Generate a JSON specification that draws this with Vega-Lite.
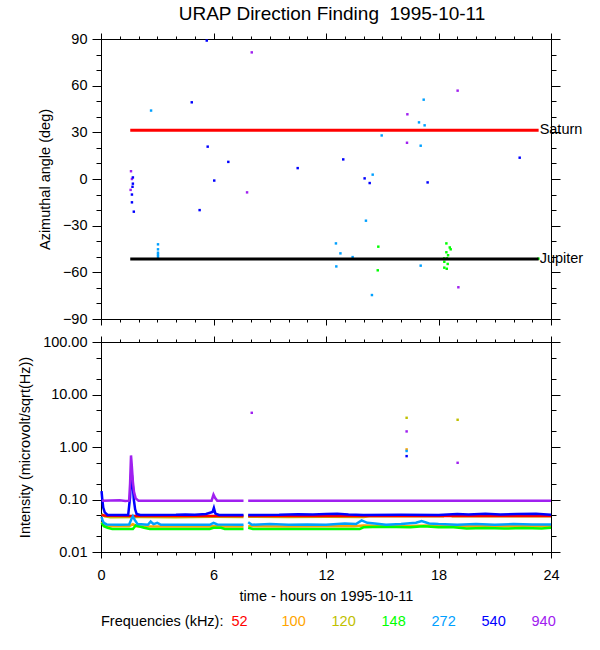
{
  "$schema": "https://vega.github.io/schema/vega-lite/v6.json",
  "padding": {"left": 17, "top": 4, "right": 5, "bottom": 5},
  "background": "white",
  "datasets": {
    "pts": [
      {"t": 1.6, "a": 5, "f": "940"}, {"t": 1.58, "a": -7, "f": "940"}, {"t": 1.65, "a": 0, "f": "940"},
      {"t": 8.04, "a": 81.4, "f": "940"}, {"t": 7.79, "a": -8.6, "f": "940"}, {"t": 16.34, "a": 41.6, "f": "940"},
      {"t": 16.32, "a": 23.3, "f": "940"}, {"t": 19.02, "a": 56.8, "f": "940"}, {"t": 19.06, "a": -69.6, "f": "940"},
      {"t": 1.7, "a": 1, "f": "540"}, {"t": 1.7, "a": -3, "f": "540"}, {"t": 1.65, "a": -10, "f": "540"},
      {"t": 1.65, "a": -15, "f": "540"}, {"t": 1.75, "a": -21, "f": "540"}, {"t": 1.68, "a": -5, "f": "540"},
      {"t": 4.84, "a": 49.3, "f": "540"}, {"t": 5.64, "a": 89, "f": "540"}, {"t": 5.69, "a": 20.8, "f": "540"},
      {"t": 5.26, "a": -20, "f": "540"}, {"t": 6.04, "a": -1, "f": "540"}, {"t": 6.79, "a": 11, "f": "540"},
      {"t": 10.49, "a": 7, "f": "540"}, {"t": 12.92, "a": 12.6, "f": "540"}, {"t": 14.06, "a": 0.4, "f": "540"},
      {"t": 14.33, "a": -2.6, "f": "540"}, {"t": 17.42, "a": -2.2, "f": "540"}, {"t": 22.33, "a": 13.7, "f": "540"},
      {"t": 2.67, "a": 44, "f": "272"}, {"t": 3.04, "a": -42, "f": "272"}, {"t": 3.04, "a": -45.2, "f": "272"},
      {"t": 3.04, "a": -47.4, "f": "272"}, {"t": 3.04, "a": -48.7, "f": "272"}, {"t": 3.04, "a": -50, "f": "272"},
      {"t": 14.97, "a": 28, "f": "272"}, {"t": 14.49, "a": 2.8, "f": "272"}, {"t": 14.13, "a": -26.8, "f": "272"},
      {"t": 12.53, "a": -41.4, "f": "272"}, {"t": 12.77, "a": -47.8, "f": "272"}, {"t": 13.42, "a": -50.2, "f": "272"},
      {"t": 12.55, "a": -56.2, "f": "272"}, {"t": 14.45, "a": -74.6, "f": "272"}, {"t": 16.96, "a": 36.4, "f": "272"},
      {"t": 17.26, "a": 34.5, "f": "272"}, {"t": 17.21, "a": 51, "f": "272"}, {"t": 17.05, "a": 21.4, "f": "272"},
      {"t": 17.05, "a": -55.7, "f": "272"},
      {"t": 14.79, "a": -43.5, "f": "148"}, {"t": 14.76, "a": -58.7, "f": "148"}, {"t": 18.42, "a": -41.4, "f": "148"},
      {"t": 18.65, "a": -45.2, "f": "148"}, {"t": 18.6, "a": -44, "f": "148"}, {"t": 18.42, "a": -47.1, "f": "148"},
      {"t": 18.51, "a": -49, "f": "148"}, {"t": 18.3, "a": -51, "f": "148"}, {"t": 18.45, "a": -51, "f": "148"},
      {"t": 18.31, "a": -53.2, "f": "148"}, {"t": 18.49, "a": -54.6, "f": "148"}, {"t": 18.31, "a": -57, "f": "148"},
      {"t": 18.44, "a": -57.7, "f": "148"}, {"t": 23.33, "a": -51.2, "f": "148"}
    ],
    "planets": [
      {"name": "Saturn", "t0": 1.56, "t1": 23.34, "a": 31.3},
      {"name": "Jupiter", "t0": 1.56, "t1": 23.34, "a": -51.4}
    ],
    "inten": [
      {"t": 0.03, "v": 0.038, "f": "100", "s": 1}, {"t": 0.15, "v": 0.034, "f": "100", "s": 1}, {"t": 0.3, "v": 0.031, "f": "100", "s": 1},
      {"t": 1.5, "v": 0.031, "f": "100", "s": 1}, {"t": 1.7, "v": 0.034, "f": "100", "s": 1}, {"t": 1.9, "v": 0.031, "f": "100", "s": 1},
      {"t": 3, "v": 0.0305, "f": "100", "s": 1}, {"t": 4, "v": 0.031, "f": "100", "s": 1}, {"t": 5, "v": 0.0305, "f": "100", "s": 1},
      {"t": 6, "v": 0.031, "f": "100", "s": 1}, {"t": 7.6, "v": 0.0305, "f": "100", "s": 1},
      {"t": 7.85, "v": 0.031, "f": "100", "s": 2}, {"t": 10, "v": 0.0305, "f": "100", "s": 2}, {"t": 12, "v": 0.031, "f": "100", "s": 2},
      {"t": 13.5, "v": 0.031, "f": "100", "s": 2}, {"t": 14, "v": 0.032, "f": "100", "s": 2}, {"t": 16, "v": 0.031, "f": "100", "s": 2},
      {"t": 17.5, "v": 0.032, "f": "100", "s": 2}, {"t": 18, "v": 0.031, "f": "100", "s": 2}, {"t": 20, "v": 0.031, "f": "100", "s": 2},
      {"t": 22, "v": 0.031, "f": "100", "s": 2}, {"t": 24, "v": 0.031, "f": "100", "s": 2},

      {"t": 0.03, "v": 0.053, "f": "120", "s": 1}, {"t": 0.2, "v": 0.048, "f": "120", "s": 1}, {"t": 0.5, "v": 0.046, "f": "120", "s": 1},
      {"t": 2, "v": 0.0465, "f": "120", "s": 1}, {"t": 4, "v": 0.046, "f": "120", "s": 1}, {"t": 6, "v": 0.0468, "f": "120", "s": 1},
      {"t": 7.6, "v": 0.0465, "f": "120", "s": 1},
      {"t": 7.85, "v": 0.0468, "f": "120", "s": 2}, {"t": 10, "v": 0.0462, "f": "120", "s": 2}, {"t": 12, "v": 0.047, "f": "120", "s": 2},
      {"t": 14, "v": 0.0465, "f": "120", "s": 2}, {"t": 14.3, "v": 0.048, "f": "120", "s": 2}, {"t": 18.3, "v": 0.048, "f": "120", "s": 2},
      {"t": 18.7, "v": 0.048, "f": "120", "s": 3}, {"t": 24, "v": 0.048, "f": "120", "s": 3},

      {"t": 0.03, "v": 0.05, "f": "52", "s": 1}, {"t": 0.3, "v": 0.049, "f": "52", "s": 1}, {"t": 2, "v": 0.0487, "f": "52", "s": 1},
      {"t": 4, "v": 0.0487, "f": "52", "s": 1}, {"t": 6, "v": 0.0485, "f": "52", "s": 1}, {"t": 7.6, "v": 0.0486, "f": "52", "s": 1},
      {"t": 7.85, "v": 0.0486, "f": "52", "s": 2}, {"t": 24, "v": 0.0486, "f": "52", "s": 2},

      {"t": 0.03, "v": 0.036, "f": "148", "s": 1}, {"t": 0.15, "v": 0.031, "f": "148", "s": 1}, {"t": 0.35, "v": 0.029, "f": "148", "s": 1},
      {"t": 0.6, "v": 0.0275, "f": "148", "s": 1}, {"t": 1.7, "v": 0.0275, "f": "148", "s": 1}, {"t": 1.85, "v": 0.032, "f": "148", "s": 1},
      {"t": 2.0, "v": 0.031, "f": "148", "s": 1}, {"t": 2.3, "v": 0.029, "f": "148", "s": 1}, {"t": 2.6, "v": 0.0275, "f": "148", "s": 1},
      {"t": 5.8, "v": 0.0275, "f": "148", "s": 1}, {"t": 6.0, "v": 0.029, "f": "148", "s": 1}, {"t": 6.4, "v": 0.029, "f": "148", "s": 1},
      {"t": 6.6, "v": 0.0275, "f": "148", "s": 1}, {"t": 7.6, "v": 0.0275, "f": "148", "s": 1},
      {"t": 7.85, "v": 0.029, "f": "148", "s": 2}, {"t": 8.1, "v": 0.0275, "f": "148", "s": 2}, {"t": 13.8, "v": 0.0275, "f": "148", "s": 2},
      {"t": 14.0, "v": 0.0295, "f": "148", "s": 2}, {"t": 15, "v": 0.0302, "f": "148", "s": 2}, {"t": 16.5, "v": 0.0295, "f": "148", "s": 2},
      {"t": 17.2, "v": 0.031, "f": "148", "s": 2}, {"t": 18, "v": 0.0295, "f": "148", "s": 2}, {"t": 18.8, "v": 0.0295, "f": "148", "s": 2},
      {"t": 19.5, "v": 0.028, "f": "148", "s": 2}, {"t": 20.5, "v": 0.0285, "f": "148", "s": 2}, {"t": 21.5, "v": 0.028, "f": "148", "s": 2},
      {"t": 22.5, "v": 0.0285, "f": "148", "s": 2}, {"t": 23.5, "v": 0.028, "f": "148", "s": 2}, {"t": 24, "v": 0.029, "f": "148", "s": 2},

      {"t": 0.03, "v": 0.047, "f": "272", "s": 1}, {"t": 0.08, "v": 0.04, "f": "272", "s": 1}, {"t": 0.15, "v": 0.036, "f": "272", "s": 1},
      {"t": 0.3, "v": 0.0335, "f": "272", "s": 1}, {"t": 1.0, "v": 0.033, "f": "272", "s": 1}, {"t": 1.5, "v": 0.0335, "f": "272", "s": 1},
      {"t": 1.62, "v": 0.042, "f": "272", "s": 1}, {"t": 1.7, "v": 0.048, "f": "272", "s": 1}, {"t": 1.8, "v": 0.041, "f": "272", "s": 1},
      {"t": 1.95, "v": 0.034, "f": "272", "s": 1}, {"t": 2.5, "v": 0.033, "f": "272", "s": 1}, {"t": 2.65, "v": 0.038, "f": "272", "s": 1},
      {"t": 2.8, "v": 0.034, "f": "272", "s": 1}, {"t": 3.0, "v": 0.036, "f": "272", "s": 1}, {"t": 3.2, "v": 0.033, "f": "272", "s": 1},
      {"t": 5.8, "v": 0.033, "f": "272", "s": 1}, {"t": 6.0, "v": 0.036, "f": "272", "s": 1}, {"t": 6.2, "v": 0.0335, "f": "272", "s": 1},
      {"t": 7.6, "v": 0.033, "f": "272", "s": 1},
      {"t": 7.85, "v": 0.037, "f": "272", "s": 2}, {"t": 8.05, "v": 0.033, "f": "272", "s": 2}, {"t": 9, "v": 0.034, "f": "272", "s": 2},
      {"t": 10, "v": 0.033, "f": "272", "s": 2}, {"t": 11, "v": 0.0335, "f": "272", "s": 2}, {"t": 12, "v": 0.033, "f": "272", "s": 2},
      {"t": 13, "v": 0.035, "f": "272", "s": 2}, {"t": 13.6, "v": 0.034, "f": "272", "s": 2}, {"t": 13.9, "v": 0.04, "f": "272", "s": 2},
      {"t": 14.2, "v": 0.036, "f": "272", "s": 2}, {"t": 14.6, "v": 0.035, "f": "272", "s": 2}, {"t": 15.2, "v": 0.033, "f": "272", "s": 2},
      {"t": 16, "v": 0.034, "f": "272", "s": 2}, {"t": 16.8, "v": 0.036, "f": "272", "s": 2}, {"t": 17.1, "v": 0.039, "f": "272", "s": 2},
      {"t": 17.5, "v": 0.035, "f": "272", "s": 2}, {"t": 18, "v": 0.034, "f": "272", "s": 2}, {"t": 19, "v": 0.033, "f": "272", "s": 2},
      {"t": 20, "v": 0.034, "f": "272", "s": 2}, {"t": 21, "v": 0.033, "f": "272", "s": 2}, {"t": 22, "v": 0.034, "f": "272", "s": 2},
      {"t": 23, "v": 0.0335, "f": "272", "s": 2}, {"t": 24, "v": 0.0335, "f": "272", "s": 2},

      {"t": 0.03, "v": 0.145, "f": "540", "s": 1}, {"t": 0.07, "v": 0.1, "f": "540", "s": 1}, {"t": 0.12, "v": 0.07, "f": "540", "s": 1},
      {"t": 0.2, "v": 0.057, "f": "540", "s": 1}, {"t": 0.35, "v": 0.0508, "f": "540", "s": 1}, {"t": 1.45, "v": 0.0508, "f": "540", "s": 1},
      {"t": 1.55, "v": 0.11, "f": "540", "s": 1}, {"t": 1.62, "v": 0.36, "f": "540", "s": 1}, {"t": 1.68, "v": 0.22, "f": "540", "s": 1},
      {"t": 1.75, "v": 0.1, "f": "540", "s": 1}, {"t": 1.82, "v": 0.065, "f": "540", "s": 1}, {"t": 1.9, "v": 0.053, "f": "540", "s": 1},
      {"t": 2.1, "v": 0.0508, "f": "540", "s": 1}, {"t": 4, "v": 0.051, "f": "540", "s": 1}, {"t": 4.5, "v": 0.052, "f": "540", "s": 1},
      {"t": 5.0, "v": 0.051, "f": "540", "s": 1}, {"t": 5.6, "v": 0.053, "f": "540", "s": 1}, {"t": 5.95, "v": 0.058, "f": "540", "s": 1},
      {"t": 6.02, "v": 0.069, "f": "540", "s": 1}, {"t": 6.1, "v": 0.054, "f": "540", "s": 1}, {"t": 6.3, "v": 0.0508, "f": "540", "s": 1},
      {"t": 7.6, "v": 0.0508, "f": "540", "s": 1},
      {"t": 7.85, "v": 0.0508, "f": "540", "s": 2}, {"t": 9.5, "v": 0.051, "f": "540", "s": 2}, {"t": 10.5, "v": 0.0525, "f": "540", "s": 2},
      {"t": 11.3, "v": 0.0518, "f": "540", "s": 2}, {"t": 12, "v": 0.053, "f": "540", "s": 2}, {"t": 12.6, "v": 0.0535, "f": "540", "s": 2},
      {"t": 13.2, "v": 0.052, "f": "540", "s": 2}, {"t": 14, "v": 0.0508, "f": "540", "s": 2}, {"t": 16, "v": 0.051, "f": "540", "s": 2},
      {"t": 18, "v": 0.0508, "f": "540", "s": 2}, {"t": 19, "v": 0.053, "f": "540", "s": 2}, {"t": 19.6, "v": 0.052, "f": "540", "s": 2},
      {"t": 20.5, "v": 0.0535, "f": "540", "s": 2}, {"t": 21.3, "v": 0.052, "f": "540", "s": 2}, {"t": 22.2, "v": 0.053, "f": "540", "s": 2},
      {"t": 23.2, "v": 0.0535, "f": "540", "s": 2}, {"t": 24, "v": 0.051, "f": "540", "s": 2},

      {"t": 0.05, "v": 0.095, "f": "940", "s": 1}, {"t": 1.0, "v": 0.097, "f": "940", "s": 1}, {"t": 1.3, "v": 0.094, "f": "940", "s": 1},
      {"t": 1.5, "v": 0.095, "f": "940", "s": 1}, {"t": 1.55, "v": 0.2, "f": "940", "s": 1}, {"t": 1.6, "v": 0.69, "f": "940", "s": 1},
      {"t": 1.64, "v": 0.45, "f": "940", "s": 1}, {"t": 1.7, "v": 0.22, "f": "940", "s": 1}, {"t": 1.76, "v": 0.14, "f": "940", "s": 1},
      {"t": 1.85, "v": 0.105, "f": "940", "s": 1}, {"t": 2, "v": 0.095, "f": "940", "s": 1}, {"t": 5.9, "v": 0.095, "f": "940", "s": 1},
      {"t": 6.0, "v": 0.124, "f": "940", "s": 1}, {"t": 6.08, "v": 0.108, "f": "940", "s": 1}, {"t": 6.2, "v": 0.095, "f": "940", "s": 1},
      {"t": 7.6, "v": 0.095, "f": "940", "s": 1},
      {"t": 7.85, "v": 0.095, "f": "940", "s": 2}, {"t": 24, "v": 0.095, "f": "940", "s": 2}
    ],
    "bursts": [
      {"t": 8.04, "v": 4.48, "f": "940"}, {"t": 16.3, "v": 3.6, "f": "120"}, {"t": 16.3, "v": 1.98, "f": "940"},
      {"t": 16.3, "v": 0.9, "f": "100"}, {"t": 16.3, "v": 0.84, "f": "272"}, {"t": 16.3, "v": 0.67, "f": "540"},
      {"t": 19.02, "v": 3.3, "f": "120"}, {"t": 19.02, "v": 0.5, "f": "940"}
    ]
  },
  "spacing": 7,
  "resolve": {"scale": {"y": "independent", "x": "shared", "color": "shared"}},
  "vconcat": [
    {
      "width": 450,
      "height": 280,
      "title": {"text": "URAP Direction Finding\u00a0 1995-10-11", "frame": "group", "anchor": "middle", "fontSize": 19, "fontWeight": "normal", "offset": 7, "dx": 6},
      "layer": [
        {
          "data": {"name": "pts"},
          "mark": {"type": "square", "size": 6, "opacity": 1},
          "encoding": {
            "x": {"field": "t", "type": "quantitative", "scale": {"domain": [0, 24], "nice": false},
                  "axis": {"orient": "bottom", "values": [0, 6, 12, 18, 24], "labels": false, "tickSize": 6, "title": null}},
            "y": {"field": "a", "type": "quantitative", "scale": {"domain": [-90, 90], "nice": false},
                  "axis": {"orient": "left", "values": [-90, -60, -30, 0, 30, 60, 90], "tickSize": 9, "title": "Azimuthal angle (deg)"}},
            "color": {"field": "f", "type": "nominal",
                      "scale": {"domain": ["52", "100", "120", "148", "272", "540", "940"],
                                "range": ["#ff0000", "#ffa500", "#c0c000", "#00ff00", "#00a0ff", "#0000ff", "#a020f0"]}}
          }
        },
        {
          "data": {"name": "planets"},
          "mark": {"type": "rule", "strokeWidth": 3},
          "encoding": {
            "x": {"field": "t0", "type": "quantitative", "axis": null},
            "x2": {"field": "t1"},
            "y": {"field": "a", "type": "quantitative", "axis": null},
            "color": {"condition": {"test": "datum.name == 'Saturn'", "value": "#ff0000"}, "value": "black"}
          }
        },
        {
          "data": {"name": "planets"},
          "mark": {"type": "text", "align": "left", "baseline": "middle", "dx": 1, "fontSize": 14.5, "color": "black"},
          "encoding": {
            "x": {"field": "t1", "type": "quantitative", "axis": null},
            "y": {"field": "a", "type": "quantitative", "axis": null},
            "text": {"field": "name"}
          }
        },
        {
          "data": {"name": "planets"},
          "mark": {"type": "point", "opacity": 0},
          "encoding": {
            "x": {"field": "t1", "type": "quantitative",
                  "axis": {"orient": "bottom", "values": [1, 2, 3, 4, 5, 7, 8, 9, 10, 11, 13, 14, 15, 16, 17, 19, 20, 21, 22, 23], "labels": false, "domain": false, "tickSize": 3, "title": null}},
            "y": {"field": "a", "type": "quantitative",
                  "axis": {"orient": "left", "values": [-80, -70, -50, -40, -20, -10, 10, 20, 40, 50, 70, 80], "labels": false, "domain": false, "tickSize": 5, "title": null}}
          }
        },
        {
          "data": {"name": "planets"},
          "mark": {"type": "point", "opacity": 0},
          "encoding": {
            "x": {"field": "t1", "type": "quantitative",
                  "axis": {"orient": "top", "values": [0, 6, 12, 18, 24], "labels": false, "tickSize": 6, "title": null}},
            "y": {"field": "a", "type": "quantitative",
                  "axis": {"orient": "right", "values": [-90, -60, -30, 0, 30, 60, 90], "labels": false, "tickSize": 9, "title": null}}
          }
        },
        {
          "data": {"name": "planets"},
          "mark": {"type": "point", "opacity": 0},
          "encoding": {
            "x": {"field": "t1", "type": "quantitative",
                  "axis": {"orient": "top", "values": [1, 2, 3, 4, 5, 7, 8, 9, 10, 11, 13, 14, 15, 16, 17, 19, 20, 21, 22, 23], "labels": false, "domain": false, "tickSize": 3, "title": null}},
            "y": {"field": "a", "type": "quantitative",
                  "axis": {"orient": "right", "values": [-80, -70, -50, -40, -20, -10, 10, 20, 40, 50, 70, 80], "labels": false, "domain": false, "tickSize": 5, "title": null}}
          }
        }
      ],
      "resolve": {"axis": {"x": "independent", "y": "independent"}}
    },
    {
      "width": 450,
      "height": 210,
      "layer": [
        {
          "data": {"name": "inten"},
          "mark": {"type": "line", "strokeWidth": 2.5, "interpolate": "linear"},
          "encoding": {
            "x": {"field": "t", "type": "quantitative", "scale": {"domain": [0, 24], "nice": false},
                  "axis": {"orient": "bottom", "values": [0, 6, 12, 18, 24], "tickSize": 6, "labelPadding": 10, "titlePadding": 8, "title": "time - hours on 1995-10-11"}},
            "y": {"field": "v", "type": "quantitative", "scale": {"type": "log", "domain": [0.01, 100], "nice": false},
                  "axis": {"orient": "left", "values": [0.01, 0.1, 1, 10, 100], "format": ".2f", "tickSize": 9, "title": "Intensity (microvolt/sqrt(Hz))"}},
            "color": {"field": "f", "type": "nominal",
                      "scale": {"domain": ["52", "100", "120", "148", "272", "540", "940"],
                                "range": ["#ff0000", "#ffa500", "#c0c000", "#00ff00", "#00a0ff", "#0000ff", "#a020f0"]},
                      "legend": {"orient": "bottom", "direction": "horizontal", "title": "Frequencies (kHz):", "titleOrient": "left",
                                 "symbolSize": 0, "symbolOpacity": 0, "symbolStrokeWidth": 0, "labelOffset": 0, "columnPadding": 11,
                                 "gridAlign": "all", "titlePadding": -7, "offset": 11,
                                 "labelColor": {"expr": "datum.value == '52' ? '#ff0000' : datum.value == '100' ? '#ffa500' : datum.value == '120' ? '#c0c000' : datum.value == '148' ? '#00ff00' : datum.value == '272' ? '#00a0ff' : datum.value == '540' ? '#0000ff' : '#a020f0'"}}},
            "detail": {"field": "s", "type": "nominal"}
          }
        },
        {
          "data": {"name": "bursts"},
          "mark": {"type": "square", "size": 6, "opacity": 1},
          "encoding": {
            "x": {"field": "t", "type": "quantitative", "axis": null},
            "y": {"field": "v", "type": "quantitative", "axis": null},
            "color": {"field": "f", "type": "nominal"}
          }
        },
        {
          "data": {"name": "bursts"},
          "mark": {"type": "point", "opacity": 0},
          "encoding": {
            "x": {"field": "t", "type": "quantitative",
                  "axis": {"orient": "bottom", "values": [1, 2, 3, 4, 5, 7, 8, 9, 10, 11, 13, 14, 15, 16, 17, 19, 20, 21, 22, 23], "labels": false, "domain": false, "tickSize": 3, "title": null}},
            "y": {"field": "v", "type": "quantitative",
                  "axis": {"orient": "left", "values": [0.02, 0.05, 0.2, 0.5, 2, 5, 20, 50], "labels": false, "domain": false, "tickSize": 5, "title": null}}
          }
        },
        {
          "data": {"name": "bursts"},
          "mark": {"type": "point", "opacity": 0},
          "encoding": {
            "x": {"field": "t", "type": "quantitative",
                  "axis": {"orient": "top", "values": [0, 6, 12, 18, 24], "labels": false, "tickSize": 6, "title": null}},
            "y": {"field": "v", "type": "quantitative",
                  "axis": {"orient": "right", "values": [0.01, 0.1, 1, 10, 100], "labels": false, "tickSize": 9, "title": null}}
          }
        },
        {
          "data": {"name": "bursts"},
          "mark": {"type": "point", "opacity": 0},
          "encoding": {
            "x": {"field": "t", "type": "quantitative",
                  "axis": {"orient": "top", "values": [1, 2, 3, 4, 5, 7, 8, 9, 10, 11, 13, 14, 15, 16, 17, 19, 20, 21, 22, 23], "labels": false, "domain": false, "tickSize": 3, "title": null}},
            "y": {"field": "v", "type": "quantitative",
                  "axis": {"orient": "right", "values": [0.02, 0.05, 0.2, 0.5, 2, 5, 20, 50], "labels": false, "domain": false, "tickSize": 5, "title": null}}
          }
        }
      ],
      "resolve": {"axis": {"x": "independent", "y": "independent"}}
    }
  ],
  "config": {
    "font": "Liberation Sans",
    "view": {"stroke": "black", "strokeWidth": 1},
    "axis": {
      "grid": false, "domainColor": "black", "tickColor": "black", "labelColor": "black", "titleColor": "black",
      "labelFontSize": 14.5, "titleFontSize": 14.5, "titleFontWeight": "normal", "labelPadding": 5, "titlePadding": 10,
      "labelFlush": false, "labelOverlap": false, "domainWidth": 1, "tickWidth": 1
    },
    "legend": {"labelFontSize": 14.5, "titleFontSize": 14.5, "titleFontWeight": "normal", "titleColor": "black"},
    "title": {"color": "black", "font": "Liberation Sans"}
  }
}
